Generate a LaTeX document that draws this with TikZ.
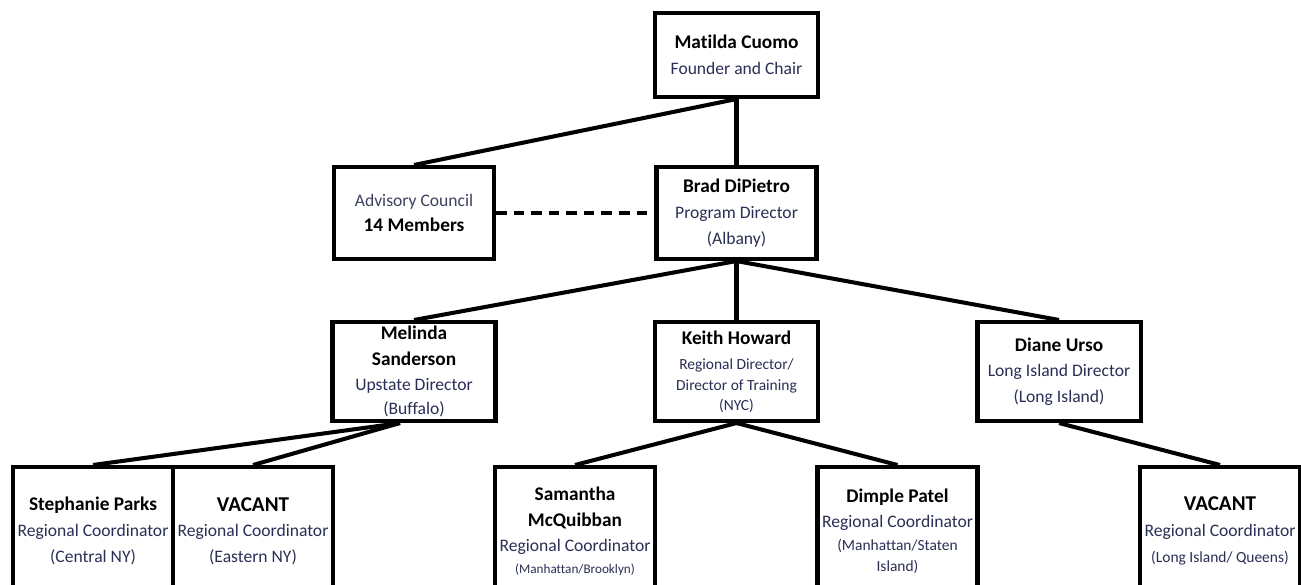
\documentclass[tikz,border=0pt]{standalone}
\usepackage{fontspec}
\setmainfont[Ligatures=NoCommon]{Carlito}
\usepackage{tikz}
\usepackage{xcolor}
\usetikzlibrary{positioning, calc}
\definecolor{OrgBlack}{HTML}{000000}
\definecolor{OrgWhite}{HTML}{ffffff}
\definecolor{OrgNavy}{HTML}{2A2F55}
\definecolor{OrgSlate}{HTML}{3C4160}
\newcommand{\pname}[1]{{\fontsize{11}{16}\selectfont\bfseries\color{OrgBlack}#1}}
\newcommand{\smallrole}{\fontsize{8.8}{11.6}\selectfont}
\newcommand{\bigrole}[1]{{\fontsize{10}{14}\selectfont #1}}
\tikzset{
    % Box styles - all with sharp corners
    orgbox/.style={
        rectangle,
        draw=OrgBlack,
        fill=OrgWhite,
        line width=2.3pt,
        minimum width=3.2cm,
        minimum height=1.84cm,
        inner sep=1pt,
        align=center,
        text=OrgNavy,
        font=\fontsize{10}{14.6}\selectfont
    },
    topbox/.style={
        orgbox,
        minimum width=3.26cm,
        minimum height=1.68cm
    },
    midbox/.style={
        orgbox,
        minimum width=3.26cm,
        minimum height=1.98cm
    },
    coordbox/.style={
        orgbox,
        minimum width=3.2cm,
        minimum height=2.56cm
    },
    % Line styles
    orgline/.style={
        line width=2.3pt,
        OrgBlack
    },
    dashline/.style={
        line width=1.9pt,
        dash pattern=on 6pt off 4pt,
        OrgBlack
    }
}
\begin{document}
\begin{tikzpicture}
    \useasboundingbox[fill=OrgWhite] (0,0) rectangle (26.02,-11.68);

    % Chair
    \node[topbox] (chair) at (14.73,-1.10) {\pname{Matilda Cuomo}\\Founder and Chair};

    % Second level
    \node[orgbox,text=OrgSlate] (advisory) at (8.28,-4.26) {Advisory Council\\\pname{14 Members}};
    \node[orgbox] (program) at (14.73,-4.26) {\pname{Brad DiPietro}\\Program Director\\(Albany)};

    % Directors
    \node[midbox] (upstate) at (8.28,-7.43) {\pname{Melinda}\\\pname{Sanderson}\\Upstate Director\\[-1pt](Buffalo)};
    \node[midbox,font=\smallrole] (training) at (14.73,-7.43) {\pname{Keith Howard}\\[3pt]Regional Director/\\Director of Training\\(NYC)};
    \node[midbox] (island) at (21.18,-7.43) {\pname{Diane Urso}\\Long Island Director\\(Long Island)};

    % Regional coordinators
    \node[coordbox] (central) at (1.86,-10.62) {\pname{Stephanie Parks}\\Regional Coordinator\\(Central NY)};
    \node[coordbox] (eastern) at (5.06,-10.62) {{\fontsize{12}{16}\selectfont\bfseries\color{OrgBlack}VACANT}\\Regional Coordinator\\(Eastern NY)};
    \node[coordbox] (brooklyn) at (11.50,-10.62) {\pname{Samantha}\\\pname{McQuibban}\\Regional Coordinator\\[-2.5pt]{\fontsize{7.5}{11}\selectfont (Manhattan/Brooklyn)}};
    \node[coordbox,font=\smallrole] (staten) at (17.95,-10.62) {\pname{Dimple Patel}\\[3pt]\bigrole{Regional Coordinator}\\[1.5pt](Manhattan/Staten\\Island)};
    \node[coordbox] (queens) at (24.40,-10.62) {{\fontsize{12}{16}\selectfont\bfseries\color{OrgBlack}VACANT}\\Regional Coordinator\\{\smallrole (Long Island/ Queens)}};

    % Fork point under the upstate box
    \coordinate (upfork) at ($(upstate.south)+(-0.28,0)$);

    % Lines
    \draw[orgline] (chair.south) -- (program.north);
    \draw[orgline] (chair.south) -- (advisory.north);
    \draw[dashline] (advisory.east) -- (program.west);
    \draw[orgline] (program.south) -- (upstate.north);
    \draw[orgline] (program.south) -- (training.north);
    \draw[orgline] (program.south) -- (island.north);
    \draw[orgline] (upfork) -- (central.north);
    \draw[orgline] (upfork) -- (eastern.north);
    \draw[orgline] (training.south) -- (brooklyn.north);
    \draw[orgline] (training.south) -- (staten.north);
    \draw[orgline] (island.south) -- (queens.north);
\end{tikzpicture}
\end{document}
